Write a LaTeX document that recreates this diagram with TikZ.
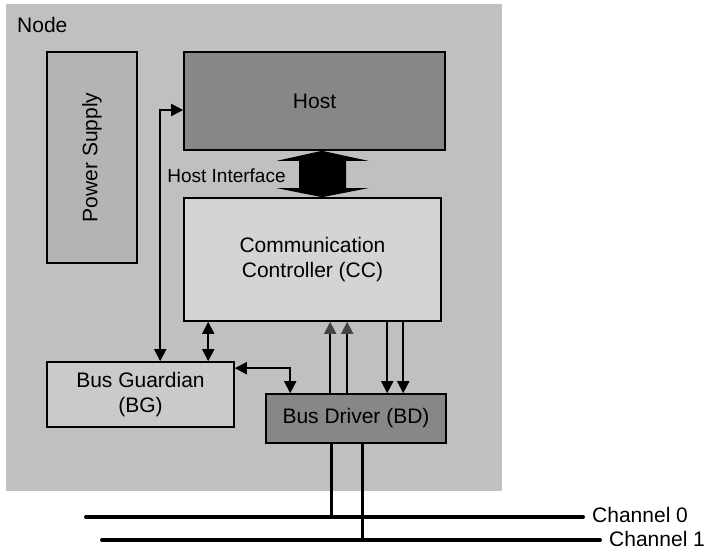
\documentclass[tikz,border=0pt]{standalone}
\usepackage{fontspec}
\setmainfont{Liberation Sans}
\usetikzlibrary{arrows.meta,calc}
\definecolor{nodebg}{HTML}{C0C0C0}
\definecolor{psfill}{HTML}{B4B4B4}
\definecolor{darkfill}{HTML}{878787}
\definecolor{ccfill}{HTML}{D4D4D4}
\definecolor{bgfill}{HTML}{CACACA}
\definecolor{tipgrey}{HTML}{444444}
\begin{document}
\begin{tikzpicture}[x=1pt,y=-1pt,
  >={Triangle[length=12pt,width=12pt]},
  txt/.style={font=\fontsize{21}{25}\selectfont},
  box/.style={draw=black,line width=1.6pt,inner sep=0pt,align=center,txt},
  conn/.style={line width=1.8pt},
  greyup/.style={line width=1.8pt,-{Triangle[length=12pt,width=12pt,color=tipgrey]}},
  busline/.style={line width=3.2pt},
  chan/.style={line width=4pt}
]
\useasboundingbox (0,0) rectangle (708,556);
% container
\node[fill=nodebg,minimum width=496pt,minimum height=487pt,inner sep=0pt] (nodearea) at (254,247.5) {};
\node[txt,anchor=base west,inner sep=0pt] (nodelabel) at (17,33) {Node};
% boxes
\node[box,fill=psfill,minimum width=90pt,minimum height=211pt] (ps) at (92,157.5) {};
\node[txt,rotate=90] (pslabel) at (ps.center) {Power Supply};
\node[box,fill=darkfill,minimum width=261pt,minimum height=98pt] (host) at (314.5,101) {Host};
\node[box,fill=ccfill,minimum width=257pt,minimum height=123pt] (cc) at (312.5,259.5) {Communication\\Controller (CC)};
\node[box,fill=bgfill,minimum width=187pt,minimum height=65pt] (bg) at (140.5,394.5) {Bus Guardian\\(BG)};
\node[box,fill=darkfill,minimum width=180pt,minimum height=49pt] (bd) at (356,418.5) {Bus Driver (BD)};
% host interface
\coordinate (hiT) at ([xshift=7.5pt]host.south);
\coordinate (hiB) at (hiT |- cc.north);
\fill[black] (hiT) -- ($(hiT)+(46,10)$) -- ($(hiT)+(24,10)$) -- ($(hiB)+(24,-9)$) -- ($(hiB)+(46,-9)$)
  -- (hiB) -- ($(hiB)+(-45,-9)$) -- ($(hiB)+(-23,-9)$) -- ($(hiT)+(-23,10)$) -- ($(hiT)+(-45,10)$) -- cycle;
\node[font=\fontsize{19}{23}\selectfont,inner sep=0pt] (hilabel) at (226.5,176) {Host Interface};
% connectors
\draw[conn,<->] ($(bg.north west)+(114,0)$) |- ($(host.west)+(0,9)$);
\draw[conn,<->] ($(cc.south west)+(25,0)$) -- ($(bg.north west)+(162,0)$);
\draw[conn,<->] ($(bg.north east)+(0,7)$) -| ($(bd.north west)+(25,0)$);
\draw[greyup] ($(bd.north west)+(65,0)$) -- ($(cc.south west)+(147,0)$);
\draw[greyup] ($(bd.north west)+(82,0)$) -- ($(cc.south west)+(164,0)$);
\draw[conn,->] ($(cc.south west)+(204,0)$) -- ($(bd.north west)+(122,0)$);
\draw[conn,->] ($(cc.south west)+(220,0)$) -- ($(bd.north west)+(138,0)$);
% channels
\node[txt,anchor=west,inner sep=0pt] (ch0) at (592,515) {Channel 0};
\node[txt,anchor=west,inner sep=0pt] (ch1) at (609,539) {Channel 1};
\coordinate (ch0l) at (86,517);
\coordinate (ch0r) at (583,517);
\coordinate (ch1l) at (102,540);
\coordinate (ch1r) at (600,540);
\draw[chan,line cap=round] (ch0l) -- (ch0r);
\draw[chan,line cap=round] (ch1l) -- (ch1r);
\coordinate (d0) at ($(bd.south west)+(66,0)$);
\coordinate (d1) at ($(bd.south west)+(97,0)$);
\draw[busline] (d0) -- (d0 |- ch0l);
\draw[busline] (d1) -- (d1 |- ch1l);
\end{tikzpicture}
\end{document}
